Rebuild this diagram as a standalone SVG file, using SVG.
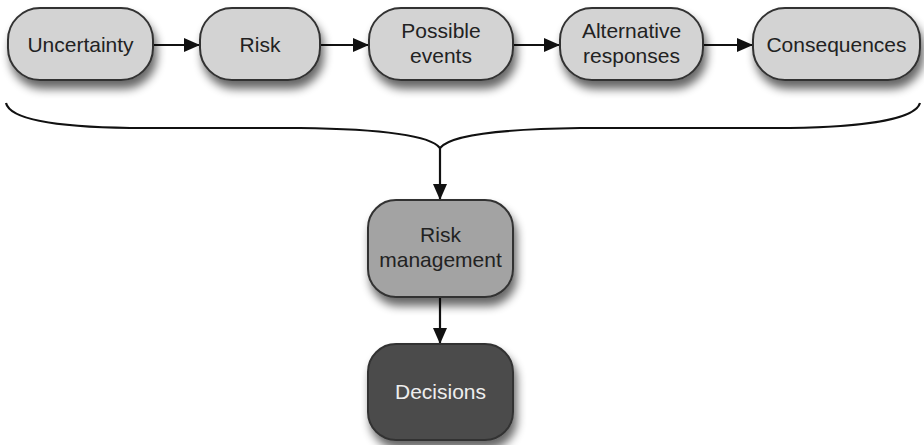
<svg xmlns="http://www.w3.org/2000/svg" width="924" height="445" viewBox="0 0 924 445">
  <defs>
    <filter id="shadow" x="-20%" y="-20%" width="150%" height="170%">
      <feGaussianBlur in="SourceAlpha" stdDeviation="5"/>
      <feOffset dx="3" dy="8" result="b"/>
      <feComponentTransfer><feFuncA type="linear" slope="0.6"/></feComponentTransfer>
      <feMerge><feMergeNode/><feMergeNode in="SourceGraphic"/></feMerge>
    </filter>
    <marker id="arrow" viewBox="0 0 16 14" refX="16" refY="7" markerWidth="16" markerHeight="14" markerUnits="userSpaceOnUse" orient="auto">
      <path d="M0,0 L16,7 L0,14 Z" fill="#111"/>
    </marker>
  </defs>
  <style>
    .box { stroke: #333; stroke-width: 2; filter: url(#shadow); }
    .light { fill: #d3d3d3; }
    .mid { fill: #a3a3a3; }
    .dark { fill: #4b4b4b; }
    text { font-family: "Liberation Sans", Arial, sans-serif; font-size: 21px; text-anchor: middle; fill: #222; }
    .inv { fill: #eeeeee; }
    .edge { fill: none; stroke: #111; stroke-width: 2.2; }
  </style>
  <rect width="924" height="445" fill="#ffffff"/>

  <g id="connectors">
    <line class="edge" x1="153" y1="45" x2="200" y2="45" marker-end="url(#arrow)"/>
    <line class="edge" x1="320" y1="45" x2="369" y2="45" marker-end="url(#arrow)"/>
    <line class="edge" x1="513" y1="45" x2="560" y2="45" marker-end="url(#arrow)"/>
    <line class="edge" x1="703" y1="45" x2="753" y2="45" marker-end="url(#arrow)"/>
    <path class="edge" d="M6,103 C10,120 60,127 130,128 L300,128 C380,129 430,135 440,148 C450,135 500,129 580,128 L790,128 C860,127 915,120 920,103"/>
    <line class="edge" x1="440" y1="148" x2="440" y2="200" marker-end="url(#arrow)"/>
    <line class="edge" x1="440" y1="297" x2="440" y2="344" marker-end="url(#arrow)"/>
  </g>

  <g id="uncertainty">
    <rect class="box light" x="8" y="8" width="145" height="72" rx="32"/>
    <text x="80.5" y="52">Uncertainty</text>
  </g>
  <g id="risk">
    <rect class="box light" x="200" y="8" width="120" height="72" rx="32"/>
    <text x="260" y="52">Risk</text>
  </g>
  <g id="possible-events">
    <rect class="box light" x="369" y="8" width="144" height="72" rx="32"/>
    <text x="441" y="38">Possible</text>
    <text x="441" y="63">events</text>
  </g>
  <g id="alternative-responses">
    <rect class="box light" x="560" y="8" width="143" height="72" rx="32"/>
    <text x="631.5" y="38">Alternative</text>
    <text x="631.5" y="63">responses</text>
  </g>
  <g id="consequences">
    <rect class="box light" x="753" y="8" width="167" height="72" rx="32"/>
    <text x="836.5" y="52">Consequences</text>
  </g>
  <g id="risk-management">
    <rect class="box mid" x="368" y="200" width="145" height="97" rx="28"/>
    <text x="440.5" y="242">Risk</text>
    <text x="440.5" y="267">management</text>
  </g>
  <g id="decisions">
    <rect class="box dark" x="368" y="344" width="145" height="96" rx="28"/>
    <text class="inv" x="440.5" y="399">Decisions</text>
  </g>
</svg>
